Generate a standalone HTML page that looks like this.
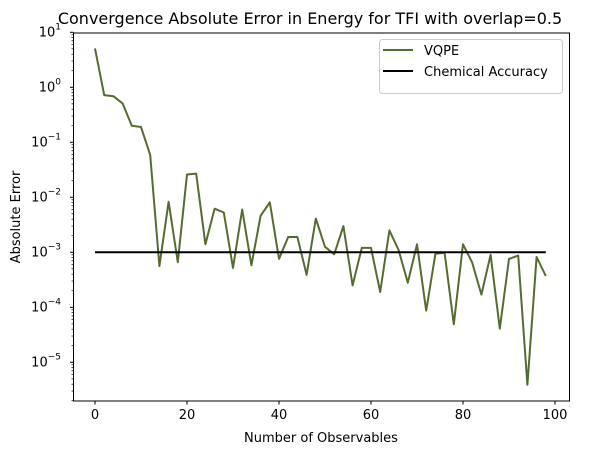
<!DOCTYPE html>
<html><head><meta charset="utf-8"><style>
body{margin:0;background:#fff}
svg{display:block;font-family:"DejaVu Sans","Liberation Sans",sans-serif}
</style></head><body>
<svg id="chart" width="592" height="455" viewBox="0 0 592 455" xmlns="http://www.w3.org/2000/svg">
<rect width="592" height="455" fill="#fff"/>
<text x="310" y="24" text-anchor="middle" font-size="16">Convergence Absolute Error in Energy for TFI with overlap=0.5</text>
<g id="axes"></g>
<g id="series"></g>
<rect x="73.5" y="33" width="496" height="368" fill="none" stroke="#000" stroke-width="1"/>
<g>
<rect x="379.5" y="39.5" width="183" height="54" rx="3" fill="#fff" fill-opacity="0.8" stroke="#ccc"/>
<line x1="383" y1="50" x2="413" y2="50" stroke="#556B2F" stroke-width="2"/>
<text x="424" y="55" font-size="13">VQPE</text>
<line x1="383" y1="71" x2="413" y2="71" stroke="#000" stroke-width="2"/>
<text x="424" y="76" font-size="13">Chemical Accuracy</text>
</g>
<text x="321" y="442" text-anchor="middle" font-size="13">Number of Observables</text>
<text transform="translate(20,217) rotate(-90)" text-anchor="middle" font-size="13">Absolute Error</text>
</svg>
<script>
const xValues = [0,2,4,6,8,10,12,14,16,18,20,22,24,26,28,30,32,34,36,38,40,42,44,46,48,50,52,54,56,58,60,62,64,66,68,70,72,74,76,78,80,82,84,86,88,90,92,94,96,98];
const vqpeErrors = [5.1,0.72,0.69,0.51,0.20,0.19,0.059,5.6e-4,8.3e-3,6.6e-4,0.026,0.027,1.4e-3,6.2e-3,5.3e-3,5.2e-4,6.0e-3,5.8e-4,4.6e-3,8.1e-3,7.6e-4,1.9e-3,1.9e-3,3.9e-4,4.1e-3,1.26e-3,9.2e-4,3.0e-3,2.5e-4,1.2e-3,1.2e-3,1.9e-4,2.5e-3,1.1e-3,2.8e-4,1.4e-3,8.7e-5,9.4e-4,9.8e-4,4.9e-5,1.4e-3,6.5e-4,1.7e-4,9.0e-4,4.1e-5,7.6e-4,8.7e-4,3.9e-6,8.2e-4,3.7e-4];
const chemicalAccuracy = 1e-3;
const xTicks = [0,20,40,60,80,100];
const yTickExps = [-5,-4,-3,-2,-1,0,1];

const NS='http://www.w3.org/2000/svg';
const xs = v => 95 + v*4.6;
const ys = v => 252.3 - (Math.log10(v)+3)*55;
function mk(tag, attrs, parent){const e=document.createElementNS(NS,tag);for(const k in attrs)e.setAttribute(k,attrs[k]);parent.appendChild(e);return e;}
const axes=document.getElementById('axes'), series=document.getElementById('series');
xTicks.forEach(t=>{
  const x=xs(t);
  const l=mk('line',{x1:x,x2:x,y1:401,y2:404.5,stroke:'#000'},axes);
  
  
  const tx=mk('text',{x:x,y:419,'text-anchor':'middle','font-size':'13'},axes);
  tx.textContent=t;
  
  
});
yTickExps.forEach(e=>{
  const y=ys(Math.pow(10,e));
  if(y>=32 && y<=402){
    const l=mk('line',{x1:70,x2:73.5,y1:y,y2:y,stroke:'#000'},axes);
    
    
    const tx=mk('text',{x:61,y:y+4,'text-anchor':'end','font-size':'13'},axes);
    
    
    tx.textContent='10';
    const s=mk('tspan',{dy:'-7','font-size':'9'},tx);
    s.textContent=String(e).replace('-','\u2212');
  }
  for(let m=2;m<=9;m++){
    const y2=ys(m*Math.pow(10,e-1));
    if(y2>=33 && y2<=401){
      const l=mk('line',{x1:71.5,x2:73.5,y1:y2,y2:y2,stroke:'#000','stroke-width':0.7},axes);
      
      
    }
  }
});
const pts=xValues.map((x,i)=>xs(x).toFixed(1)+','+ys(vqpeErrors[i]).toFixed(1)).join(' ');
const vq=mk('polyline',{points:pts,fill:'none',stroke:'#556B2F','stroke-width':2,'stroke-linejoin':'round'},series);


const ca=mk('line',{x1:xs(xValues[0]),x2:xs(xValues[xValues.length-1]),y1:ys(chemicalAccuracy),y2:ys(chemicalAccuracy),stroke:'#000','stroke-width':2},series);


</script>
</body></html>
